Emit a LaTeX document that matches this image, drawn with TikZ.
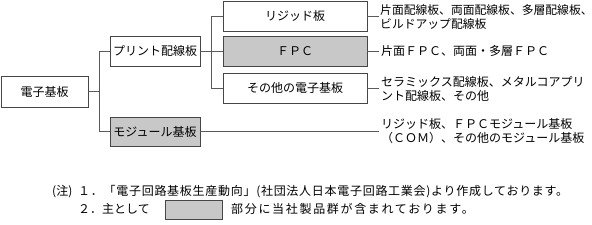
\documentclass[tikz,border=0pt]{standalone}
\usepackage{fontspec}
\setmainfont{Noto Sans CJK JP}
\newfontfamily\jpwide{Noto Sans CJK JP}[LetterSpace=14]
\newfontfamily\jpnote{Noto Sans CJK JP}[LetterSpace=6]
\definecolor{boxgray}{RGB}{200,200,200}
\definecolor{edge}{RGB}{70,70,70}
\definecolor{wire}{RGB}{90,90,90}
\begin{document}
\begin{tikzpicture}[x=1pt,y=-1pt,
  font=\fontsize{12}{14}\selectfont,
  box/.style={draw=edge, line width=0.8pt, inner sep=0pt, minimum height=30pt},
  hl/.style={fill=boxgray},
  conn/.style={draw=wire, line width=0.7pt},
  desc/.style={anchor=west, align=left, inner sep=0pt},
  note/.style={anchor=west, inner sep=0pt}]
\useasboundingbox (0,0) rectangle (592,225);
% boxes
\node[box, minimum width=87pt, minimum height=31pt] (root) at (44.5,91.5) {電子基板};
\node[box, minimum width=90pt] (print) at (155,51) {プリント配線板};
\node[box, hl, minimum width=90pt, minimum height=29pt] (module) at (155,131.5) {モジュール基板};
\node[box, minimum width=144pt] (rigid) at (295,16) {リジッド板};
\node[box, hl, minimum width=144pt] (fpc) at (295,51) {ＦＰＣ};
\node[box, minimum width=144pt] (other) at (295,88) {その他の電子基板};
% descriptions
\node[desc, font=\fontsize{11.8}{14}\selectfont] (d1) at (380,17.5) {片面配線板、両面配線板、多層配線板、\\ビルドアップ配線板};
\node[desc] (d2) at (381,51) {片面ＦＰＣ、両面・多層ＦＰＣ};
\node[desc] (d3) at (381,89) {セラミックス配線板、メタルコアプリ\\ント配線板、その他};
\node[desc] (d4) at (381,131) {リジッド板、ＦＰＣモジュール基板\\（ＣＯＭ）、その他のモジュール基板};
% connectors
\draw[conn] (rigid.east) -- ++(12,0) coordinate (e1);
\draw[conn] (fpc.east) -- (fpc.east -| e1);
\draw[conn] (other.east) -- (other.east -| e1);
\draw[conn] (module.east) -- (module.east -| e1);
\draw[conn] (root.east) -- (root.east -| 100,0);
\draw[conn] (print.west) -- ++(-10,0) |- (module.west);
\draw[conn] (print.east) -- (fpc.west);
\draw[conn] (rigid.west) -- ++(-11,0) |- (other.west);
% notes
\node[note] (n0) at (52,192) {(注)};
\node[note, font=\fontsize{12}{14}\jpnote] (n1) at (78,192) {１．「電子回路基板生産動向」(社団法人日本電子回路工業会)より作成しております。};
\node[note] (n2) at (78,209) {２．主として};
\node[box, hl, minimum width=57pt, minimum height=19pt] (legend) at (193.5,209.5) {};
\node[note, font=\fontsize{12}{14}\jpwide] (n3) at (231,209) {部分に当社製品群が含まれております。};
\end{tikzpicture}
\end{document}
